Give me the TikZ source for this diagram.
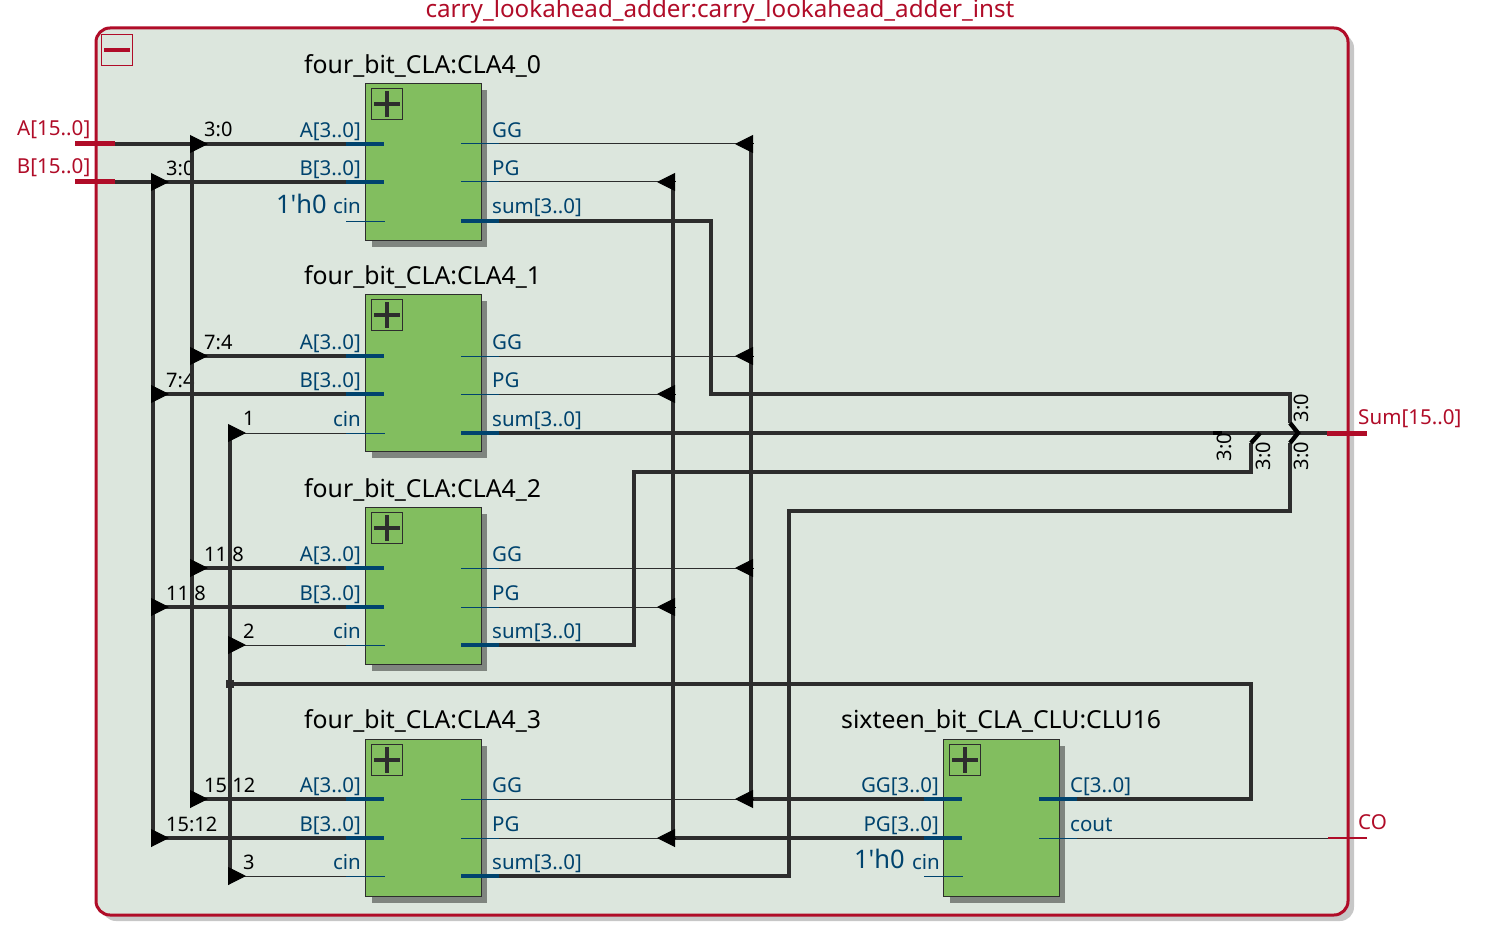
\documentclass[tikz,border=0pt]{standalone}
\usepackage{fontspec}
\setmainfont{Noto Sans}
\newfontfamily\constfont{Noto Sans}
\usetikzlibrary{arrows.meta}
\definecolor{bgcol}{HTML}{DCE6DD}
\definecolor{redcol}{HTML}{B00C28}
\definecolor{bluecol}{HTML}{00436E}
\definecolor{wirecol}{HTML}{2D2D2D}
\definecolor{greencol}{HTML}{82BE5F}
\definecolor{shadecol}{HTML}{7F857F}
\tikzset{
	bus/.style={draw=wirecol,line width=4.4pt},
	net/.style={draw=wirecol,line width=1pt},
	bustip/.style={draw=black,line width=1pt,-{Triangle[length=18pt,width=18pt,fill=black,color=black]}},
	rip/.style={draw=black,line width=4.4pt},
	stubbus/.style={draw=bluecol,line width=4.4pt},
	stubnet/.style={draw=bluecol,line width=1pt},
	extport/.style={draw=redcol,line width=5pt},
	block/.style={draw=wirecol,line width=1pt,fill=greencol,minimum width=115.5pt,minimum height=157pt,inner sep=0pt},
	portL/.style={anchor=base east,text=bluecol,font=\fontsize{20.5}{20}\selectfont,inner sep=0pt},
	portR/.style={anchor=base west,text=bluecol,font=\fontsize{20.5}{20}\selectfont,inner sep=0pt},
	wirelab/.style={anchor=base west,text=black,font=\fontsize{20}{20}\selectfont,inner sep=0pt},
	riplab/.style={rotate=90,text=black,font=\fontsize{20}{20}\selectfont,inner sep=0pt},
	extlab/.style={text=redcol,font=\fontsize{20.6}{20}\selectfont,inner sep=0pt},
	title/.style={anchor=base west,text=black,font=\fontsize{24.8}{25}\selectfont,inner sep=0pt},
	constlab/.style={anchor=base east,text=bluecol,font=\constfont\fontsize{25.5}{25}\selectfont,inner sep=0pt}
}
\begin{document}
\begin{tikzpicture}[x=1pt,y=-1pt]
	\useasboundingbox (0,0) rectangle (1490,936);
	% hierarchy frame
	\fill[black!22,rounded corners=14pt] (102,34) rectangle (1354,921);
	\draw[draw=redcol,fill=bgcol,line width=3pt,rounded corners=14pt] (96,28) rectangle (1348,915);
	\node[extlab,anchor=base,font=\fontsize{24.2}{24}\selectfont] (inst) at (720,18) {carry\_lookahead\_adder:carry\_lookahead\_adder\_inst};
	\node[draw=redcol,line width=1pt,minimum size=31.5pt,inner sep=0pt] (collapse) at (117,50) {};
	\draw[redcol,line width=3.5pt] (collapse.center) +(-13,0) -- +(13,0);

	% blocks
	\foreach \n/\top/\ty/\a/\b/\c in {0/83/74/144/182/221,1/294/284/356/394/433,2/507/497/568/607/645,3/739/728/799/838/876} {
		\fill[shadecol] (372,\top+7) rectangle (487,\top+163.5);
		\node[block,anchor=north west] (CLA\n) at (365.2,\top) {};
		\node[title] (name\n) at (304,\ty) {four\_bit\_CLA:CLA4\_\n};
		\node[draw=wirecol,line width=1pt,minimum size=31.5pt,inner sep=0pt] (plus\n) at (387,\top+21) {};
		\draw[wirecol,line width=4pt] (plus\n.center) +(-13,0) -- +(13,0) +(0,-13) -- +(0,13);
		\coordinate (A\n) at (346,\a);
		\coordinate (B\n) at (346,\b);
		\coordinate (C\n) at (346,\c);
		\coordinate (G\n) at (499,\a);
		\coordinate (P\n) at (499,\b);
		\coordinate (S\n) at (499,\c);
		\node[portL] (labA\n) at (361,\a-6.5) {A[3..0]};
		\node[portL] (labB\n) at (361,\b-6.5) {B[3..0]};
		\node[portL] (labC\n) at (361,\c-7) {cin};
		\node[portR] (labG\n) at (492,\a-6.5) {GG};
		\node[portR] (labP\n) at (492,\b-6.5) {PG};
		\node[portR] (labS\n) at (492,\c-7) {sum[3..0]};
		\draw[stubbus] (A\n) -- ++(38,0);
		\draw[stubbus] (B\n) -- ++(38,0);
		\draw[stubnet] (C\n) -- ++(39,0);
		\draw[stubnet] (G\n) -- ++(-38,0);
		\draw[stubnet] (P\n) -- ++(-38,0);
		\draw[stubbus] (S\n) -- ++(-38,0);
		% buses to the block
		\coordinate (Abus\n) at (192,\a);
		\coordinate (Bbus\n) at (153,\b);
		\coordinate (Gbus\n) at (751,\a);
		\coordinate (Pbus\n) at (673,\b);
		\draw[bus] (Abus\n) -- (A\n);
		\draw[bus] (Bbus\n) -- (B\n);
		\draw[net] (G\n) -- (Gbus\n);
		\draw[net] (P\n) -- (Pbus\n);
	}
	% carry outputs into cin
	\foreach \n/\c in {1/433,2/645,3/876} {
		\coordinate (Cbus\n) at (230,\c);
		\draw[net] (Cbus\n) -- (C\n);
	}
	\node[constlab] (zero0) at (327,213) {1'h0};

	% wire labels
	\node[wirelab] (r0a) at (204,137) {3:0};
	\node[wirelab] (r0b) at (166,175.5) {3:0};
	\node[wirelab] (r1a) at (204,349) {7:4};
	\node[wirelab] (r1b) at (166,387) {7:4};
	\node[wirelab] (r2a) at (204,561) {11:8};
	\node[wirelab] (r2b) at (166,600) {11:8};
	\node[wirelab] (r3a) at (204,792) {15:12};
	\node[wirelab] (r3b) at (166,831) {15:12};
	\node[wirelab] (r1c) at (243,425) {1};
	\node[wirelab] (r2c) at (243,638) {2};
	\node[wirelab] (r3c) at (243,869) {3};

	% carry logic block
	\fill[shadecol] (950,746) rectangle (1065,902.5);
	\node[block,anchor=north west] (CLU) at (943.2,739) {};
	\node[title] (nameCLU) at (841,728) {sixteen\_bit\_CLA\_CLU:CLU16};
	\node[draw=wirecol,line width=1pt,minimum size=31.5pt,inner sep=0pt] (plusCLU) at (965,760) {};
	\draw[wirecol,line width=4pt] (plusCLU.center) +(-13,0) -- +(13,0) +(0,-13) -- +(0,13);
	\coordinate (cluG) at (924,799);
	\coordinate (cluP) at (924,838);
	\coordinate (cluC) at (924,876);
	\coordinate (cluCarry) at (1077,799);
	\coordinate (cluOut) at (1077,838);
	\node[portL] (labcluG) at (939,792.5) {GG[3..0]};
	\node[portL] (labcluP) at (939,831.5) {PG[3..0]};
	\node[portL] (labcluC) at (940,869) {cin};
	\node[portR] (labcluCarry) at (1070,792.5) {C[3..0]};
	\node[portR] (labcluOut) at (1070,831.5) {cout};
	\node[constlab] (zero1) at (905,868) {1'h0};
	\draw[stubnet] (cluC) -- ++(39,0);

	% vertical buses
	\draw[bus] (Abus0) -- (Abus3);
	\draw[bus] (Bbus0) -- (Bbus3);
	\draw[bus] (Cbus1) -- (Cbus3);
	\draw[bus] (Gbus0) -- (Gbus3);
	\draw[bus] (Pbus0) -- (Pbus3);
	\draw[bus] (cluG) -- (Gbus3);
	\draw[bus] (cluP) -- (Pbus3);
	\draw[stubbus] (cluG) -- ++(38,0);
	\draw[stubbus] (cluP) -- ++(38,0);

	% top level ports
	\coordinate (Ain) at (75,144);
	\coordinate (Bin) at (75,182);
	\coordinate (Sout) at (1367,433);
	\coordinate (COout) at (1367,838);
	\draw[bus] (Ain) -- (Abus0);
	\draw[bus] (Bin) -- (Bbus0);
	\draw[extport] (Ain) -- ++(40,0);
	\draw[extport] (Bin) -- ++(40,0);
	\node[extlab,anchor=base east] (labA) at (90.5,136) {A[15..0]};
	\node[extlab,anchor=base east] (labB) at (90.5,174) {B[15..0]};
	\node[extlab,anchor=base west] (labS) at (1358,424) {Sum[15..0]};
	\node[extlab,anchor=base west] (labCO) at (1358,829) {CO};

	% carry back to cin
	\coordinate (cdot) at (230,684);
	\coordinate (cbend) at (1251,684);
	\draw[bus] (cluCarry) -- (1251,799) -- (cbend) -- (cdot);
	\draw[stubbus] (cluCarry) -- ++(-38,0);
	\draw[stubnet] (cluOut) -- ++(-38,0);
	\fill[wirecol] (cdot) ++(-4,-4) rectangle ++(8,8);

	% sum outputs
	\coordinate (rip0) at (1290,423);
	\coordinate (rip2) at (1251,443);
	\coordinate (rip3) at (1290,443);
	\draw[bus] (S0) -- (711,221) -- (711,394) -- (1290,394) -- (rip0);
	\draw[bus] (S1) -- (Sout);
	\draw[bus] (S2) -- (634,645) -- (634,472) -- (1251,472) -- (rip2);
	\draw[bus] (S3) -- (789,876) -- (789,511) -- (1290,511) -- (rip3);
	\foreach \n in {0,1,2,3}
		\draw[stubbus] (S\n) -- ++(-38,0);
	\draw[rip] (rip0) -- (1298,433) -- (rip3);
	\draw[rip] (rip2) -- (1260,433);
	\draw[rip] (1213,433) -- (1222,433);
	\draw[extport] (Sout) -- ++(-40,0);
	\draw[net] (cluOut) -- (COout);
	\draw[draw=redcol,line width=2.5pt] (COout) -- ++(-39,0);
	\node[riplab] (s0) at (1301,408) {3:0};
	\node[riplab] (s1) at (1224,447) {3:0};
	\node[riplab] (s2) at (1263,456) {3:0};
	\node[riplab] (s3) at (1301,456) {3:0};

	% arrow heads on top of the wires
	\foreach \n in {0,1,2,3} {
		\draw[bustip] (Abus\n) ++(-2,0) -- ++(18,0);
		\draw[bustip] (Bbus\n) ++(-2,0) -- ++(18,0);
		\draw[bustip] (Gbus\n) ++(2,0) -- ++(-18,0);
		\draw[bustip] (Pbus\n) ++(2,0) -- ++(-18,0);
	}
	\foreach \n in {1,2,3}
		\draw[bustip] (Cbus\n) ++(-2,0) -- ++(18,0);
\end{tikzpicture}
\end{document}
